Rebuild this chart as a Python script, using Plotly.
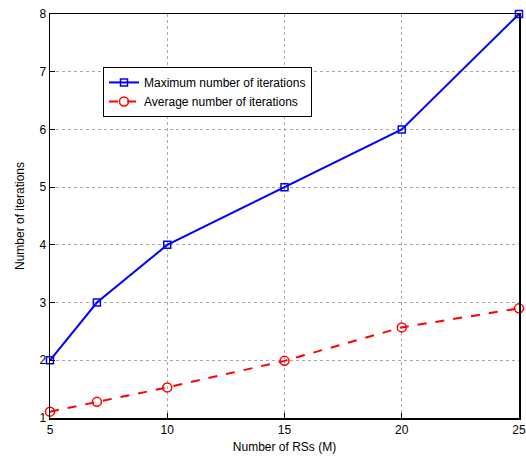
import plotly.graph_objects as go

x_rs = [5, 7, 10, 15, 20, 25]
max_iter = [2, 3, 4, 5, 6, 8]
avg_iter = [1.11, 1.28, 1.53, 1.99, 2.57, 2.90]

x_ticks = [5, 10, 15, 20, 25]
y_ticks = [1, 2, 3, 4, 5, 6, 7, 8]

FONT = "Liberation Sans, Arial, sans-serif"

fig = go.Figure()
fig.add_trace(go.Scatter(
    x=x_rs, y=max_iter, mode="lines+markers",
    name="Maximum number of iterations",
    line=dict(color="#0000ff", width=2),
    marker=dict(symbol="square-open", size=7, color="#0000ff", line=dict(width=1.5)),
    cliponaxis=False,
))
fig.add_trace(go.Scatter(
    x=x_rs, y=avg_iter, mode="lines+markers",
    name="Average number of iterations",
    line=dict(color="#ff0000", width=2, dash="dash"),
    marker=dict(symbol="circle-open", size=9, color="#ff0000", line=dict(width=1.5)),
    cliponaxis=False,
))

axis_common = dict(
    showline=True, linecolor="black", linewidth=1.5, mirror=True,
    ticks="inside", ticklen=5, tickcolor="black",
    showgrid=True, gridcolor="#aaaaaa", griddash="dot", gridwidth=1,
    zeroline=False, ticklabeloverflow="allow",
    tickfont=dict(family=FONT, size=12, color="black"),
)

fig.update_xaxes(
    range=[5, 25], tickvals=x_ticks,
    title=dict(text="Number of RSs (M)", standoff=6,
               font=dict(family=FONT, size=12, color="black")),
    **axis_common,
)
fig.update_yaxes(
    range=[1, 8], tickvals=y_ticks,
    title=dict(text="Number of iterations", standoff=12,
               font=dict(family=FONT, size=12, color="black")),
    **axis_common,
)

fig.update_layout(
    width=526, height=457,
    margin=dict(l=50, r=7, t=14, b=39, autoexpand=False),
    plot_bgcolor="white", paper_bgcolor="white",
    hovermode=False,
    legend=dict(
        x=0.113, y=0.869, xanchor="left", yanchor="top",
        bgcolor="white", bordercolor="black", borderwidth=1,
        font=dict(family=FONT, size=12, color="black"),
        tracegroupgap=0, itemwidth=30,
    ),
)

fig.write_html(
    "out.html",
    config={"displayModeBar": False, "staticPlot": True},
    post_script="document.body.style.margin='0';document.body.style.overflow='hidden';",
)
